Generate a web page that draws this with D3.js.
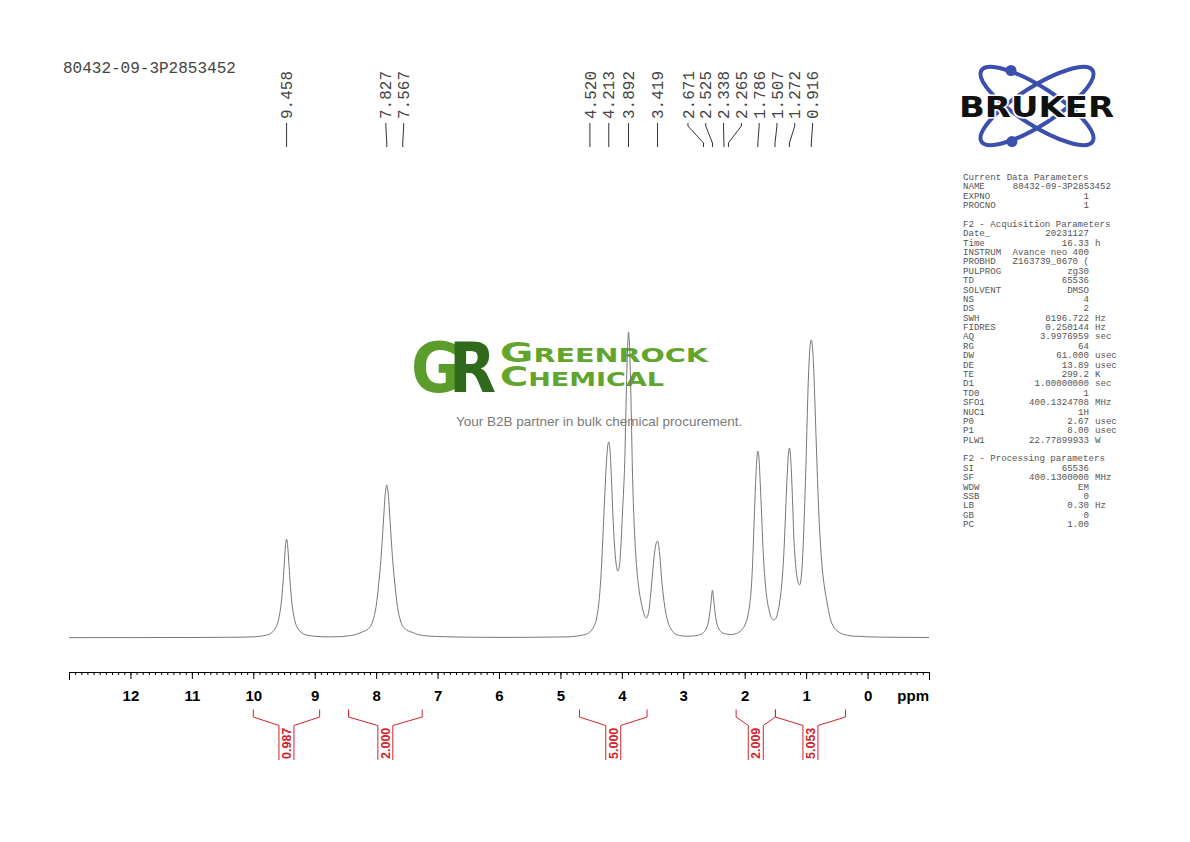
<!DOCTYPE html>
<html>
<head>
<meta charset="utf-8">
<script src="https://cdn.jsdelivr.net/npm/d3@7"></script>
<style>
  body { margin: 0; background: #fff; }
  svg { display: block; }
</style>
</head>
<body>
<div id="chart"></div>
<script>
var sampleName = "80432-09-3P2853452";

// spectrum trace, ppm descending
var shiftPpm = [
  13.0, 12.5, 12.0, 11.5, 11.0, 10.5, 10.2, 10.0, 9.9, 9.808, 9.708, 9.638, 9.598, 9.558, 9.533, 9.513, 9.493, 9.476,
  9.458, 9.44, 9.423, 9.403, 9.383, 9.358, 9.318, 9.278, 9.208, 9.108, 8.9, 8.75, 8.6, 8.45, 8.35, 8.23, 8.13, 8.05,
  7.997, 7.957, 7.925, 7.902, 7.877, 7.852, 7.827, 7.802, 7.777, 7.752, 7.729, 7.697, 7.657, 7.607, 7.527, 7.427,
  7.3, 7.15, 7.0, 6.7, 6.3, 5.9, 5.5, 5.2, 4.9, 4.8, 4.7, 4.6, 4.52, 4.46, 4.41, 4.37, 4.34, 4.313, 4.28, 4.25, 4.23,
  4.213, 4.195, 4.17, 4.145, 4.12, 4.095, 4.066, 4.04, 4.015, 3.99, 3.97, 3.955, 3.935, 3.915, 3.9, 3.892, 3.88,
  3.86, 3.845, 3.829, 3.81, 3.785, 3.755, 3.72, 3.68, 3.645, 3.603, 3.575, 3.55, 3.525, 3.5, 3.47, 3.445, 3.419,
  3.395, 3.37, 3.345, 3.32, 3.29, 3.25, 3.2, 3.14, 3.06, 2.96, 2.85, 2.75, 2.68, 2.63, 2.595, 2.57, 2.55, 2.535,
  2.525, 2.515, 2.5, 2.48, 2.455, 2.42, 2.37, 2.3, 2.22, 2.16, 2.1, 2.05, 1.99, 1.95, 1.92, 1.895, 1.875, 1.862,
  1.846, 1.826, 1.806, 1.786, 1.766, 1.746, 1.726, 1.71, 1.69, 1.665, 1.635, 1.6, 1.565, 1.525, 1.49, 1.46, 1.43,
  1.4, 1.375, 1.355, 1.338, 1.32, 1.3, 1.285, 1.272, 1.258, 1.24, 1.22, 1.2, 1.18, 1.16, 1.14, 1.12, 1.107, 1.09,
  1.07, 1.05, 1.03, 1.015, 1.0, 0.985, 0.97, 0.955, 0.94, 0.928, 0.916, 0.904, 0.89, 0.87, 0.85, 0.83, 0.81, 0.79,
  0.765, 0.735, 0.7, 0.66, 0.61, 0.55, 0.48, 0.41, 0.33, 0.22, 0.1, 0.0, -0.3, -0.7, -1.0
];
var intensity = [
  0.3, 0.4, 0.4, 0.5, 0.5, 0.7, 0.8, 1.1, 1.6, 2.6, 5, 10, 16, 29, 42, 58, 77, 92,
  99, 92, 77, 58, 42, 29, 16, 10, 5, 2.6, 1.3, 1.1, 1.3, 2.2, 3.2, 6, 9, 18,
  33, 55, 76.5, 96.5, 121, 143.6, 153, 143.6, 121, 96.5, 76.5, 55, 33, 18, 9, 6,
  3.2, 2.0, 1.5, 1.0, 0.7, 0.6, 0.7, 0.9, 1.1, 1.4, 2.2, 3.5, 6, 11, 20, 38, 62, 95, 140, 177, 192,
  196, 190, 160, 122, 93, 75, 67, 72, 92, 125, 150, 172, 225, 275, 300, 306, 298,
  262, 220, 170, 130, 95, 68, 48, 34, 25, 20, 23, 32, 48, 65, 84, 94, 97,
  90, 73, 54, 40, 27, 16, 9, 4.5, 2.5, 1.8, 2.0, 3, 5, 9, 15, 24, 35, 44,
  48, 44, 35, 24, 15, 9, 5.5, 4, 3.5, 4, 5.5, 8, 14, 22, 33, 48, 70, 90,
  118, 150, 176, 187, 178, 153, 125, 100, 76, 55, 38, 27, 20, 18, 20, 26, 36,
  52, 72, 95, 120, 148, 173, 186, 190, 185, 166, 135, 100, 80, 66, 58, 54, 53, 56,
  68, 90, 122, 150, 180, 215, 248, 272, 289, 296, 298, 295, 285, 258, 222, 185, 150, 120,
  92, 68, 50, 36, 20, 11, 6.5, 4, 2.8, 1.8, 1.6, 1.2, 0.8, 0.6, 0.5
];

var peakPpm = [9.458, 7.827, 7.567, 4.520, 4.213, 3.892, 3.419, 2.671, 2.525, 2.338, 2.265, 1.786, 1.507, 1.272, 0.916];

var integralFrom = [10.00, 8.45, 4.69, 2.14, 1.50];
var integralTo = [8.92, 7.25, 3.59, 1.50, 0.36];
var integralValue = ["0.987", "2.000", "5.000", "2.009", "5.053"];

var majorTicks = [12, 11, 10, 9, 8, 7, 6, 5, 4, 3, 2, 1, 0];

var paramRows = [
  ["Current Data Parameters"],
  ["NAME", "80432-09-3P2853452", "", 1111],
  ["EXPNO", "1"],
  ["PROCNO", "1"],
  [],
  ["F2 - Acquisition Parameters"],
  ["Date_", "20231127"],
  ["Time", "16.33", "h"],
  ["INSTRUM", "Avance neo 400"],
  ["PROBHD", "Z163739_0670 ("],
  ["PULPROG", "zg30"],
  ["TD", "65536"],
  ["SOLVENT", "DMSO"],
  ["NS", "4"],
  ["DS", "2"],
  ["SWH", "8196.722", "Hz"],
  ["FIDRES", "0.250144", "Hz"],
  ["AQ", "3.9976959", "sec"],
  ["RG", "64"],
  ["DW", "61.000", "usec"],
  ["DE", "13.89", "usec"],
  ["TE", "299.2", "K"],
  ["D1", "1.00000000", "sec"],
  ["TD0", "1"],
  ["SFO1", "400.1324708", "MHz"],
  ["NUC1", "1H"],
  ["P0", "2.67", "usec"],
  ["P1", "8.00", "usec"],
  ["PLW1", "22.77899933", "W"],
  [],
  ["F2 - Processing parameters"],
  ["SI", "65536"],
  ["SF", "400.1300000", "MHz"],
  ["WDW", "EM"],
  ["SSB", "0"],
  ["LB", "0.30", "Hz"],
  ["GB", "0"],
  ["PC", "1.00"]
];

var width = 1190;
var height = 842;
var mono = "'Liberation Mono', 'DejaVu Sans Mono', monospace";
var sans = "'Liberation Sans', Arial, sans-serif";
var red = "#d3222a";

var svg = d3.select("#chart")
  .append("svg")
  .attr("width", width)
  .attr("height", height);

var x = d3.scaleLinear().domain([13, -1]).range([69, 929]);
var y = d3.scaleLinear().domain([0, 306]).range([638, 332]);

// title
svg.append("text")
  .attr("x", 63)
  .attr("y", 73)
  .attr("font-family", mono)
  .attr("font-size", 16)
  .attr("fill", "#444")
  .text(sampleName);

// watermark
var wm = svg.append("g");
var gr = wm.append("text")
  .attr("x", 411).attr("y", 392)
  .attr("font-family", "'DejaVu Sans'").attr("font-weight", "bold")
  .attr("font-size", 70)
  .attr("textLength", 85).attr("lengthAdjust", "spacingAndGlyphs");
gr.append("tspan").attr("fill", "#5c9c2b").text("G");
gr.append("tspan").attr("fill", "#2f6a1c").attr("dx", -14).text("R");

// wordmark: big first letter via small caps, stretched wide
[["Greenrock", 362, 208], ["Chemical", 386, 164]].forEach(function(w) {
  wm.append("text")
    .attr("x", 500).attr("y", w[1])
    .attr("font-family", "'DejaVu Sans'").attr("font-weight", "bold")
    .attr("font-size", 27)
    .style("font-variant", "small-caps")
    .attr("fill", "#61a52d")
    .attr("textLength", w[2]).attr("lengthAdjust", "spacingAndGlyphs")
    .text(w[0]);
});

wm.append("text")
  .attr("x", 456).attr("y", 426)
  .attr("font-family", sans).attr("font-size", 13.5)
  .attr("fill", "#7a7a7a")
  .text("Your B2B partner in bulk chemical procurement.");

// spectrum
var trace = shiftPpm.map(function(d, i) { return [d, intensity[i]]; });
var line = d3.line()
  .x(function(d) { return x(d[0]); })
  .y(function(d) { return y(d[1]); })
  .curve(d3.curveMonotoneX);

svg.append("path")
  .datum(trace)
  .attr("d", line)
  .attr("fill", "none")
  .attr("stroke", "#777")
  .attr("stroke-width", 1);

// axis
var axisY = 672;
var minorTicks = d3.range(-10, 131).map(function(i) { return i / 10; });

svg.append("g")
  .attr("transform", "translate(0," + axisY + ")")
  .call(d3.axisBottom(x).tickValues(minorTicks).tickSize(3).tickFormat(""))
  .call(function(g) { g.select(".domain").remove(); });

svg.append("g")
  .attr("transform", "translate(0," + axisY + ")")
  .call(d3.axisBottom(x)
    .tickValues(majorTicks)
    .tickSizeInner(7)
    .tickSizeOuter(8)
    .tickPadding(11)
    .tickFormat(d3.format("d")))
  .attr("font-family", sans)
  .attr("font-size", 15)
  .attr("font-weight", "bold");

svg.append("text")
  .attr("x", 929).attr("y", 701)
  .attr("text-anchor", "end")
  .attr("font-family", sans).attr("font-size", 15).attr("font-weight", "bold")
  .text("ppm");

// peak labels, spread so they don't overlap
function spreadLabels(xs, gap) {
  var groups = xs.map(function(v) { return { sum: v, n: 1 }; });
  var merged = true;
  while (merged) {
    merged = false;
    for (var i = 0; i < groups.length - 1; i++) {
      var a = groups[i], b = groups[i + 1];
      var aEnd = a.sum / a.n + (a.n - 1) * gap / 2;
      var bStart = b.sum / b.n - (b.n - 1) * gap / 2;
      if (bStart - aEnd < gap) {
        groups.splice(i, 2, { sum: a.sum + b.sum, n: a.n + b.n });
        merged = true;
        break;
      }
    }
  }
  var out = [];
  groups.forEach(function(g) {
    var c = g.sum / g.n;
    for (var k = 0; k < g.n; k++) out.push(c + (k - (g.n - 1) / 2) * gap);
  });
  return out;
}

var peakX = peakPpm.map(function(d) { return x(d); });
var labelX = spreadLabels(peakX, 17.8);

var labels = svg.append("g");
peakPpm.forEach(function(p, i) {
  labels.append("path")
    .attr("d", "M" + labelX[i] + ",123V126L" + peakX[i] + ",143V147")
    .attr("fill", "none")
    .attr("stroke", "#333")
    .attr("stroke-width", 1);
  labels.append("text")
    .attr("transform", "translate(" + labelX[i] + ",119) rotate(-90)")
    .attr("dy", "0.35em")
    .attr("font-family", mono)
    .attr("font-size", 16)
    .attr("fill", "#444")
    .text(p.toFixed(3));
});

// integrals
var integ = svg.append("g");
integralFrom.forEach(function(f, i) {
  var x1 = x(f), x2 = x(integralTo[i]), cx = (x1 + x2) / 2;
  integ.append("path")
    .attr("d", "M" + x1 + ",709.5V717L" + (cx - 7.5) + ",725.5V760" +
               "M" + (cx + 7.5) + ",760V725.5L" + x2 + ",717V709.5")
    .attr("fill", "none")
    .attr("stroke", red)
    .attr("stroke-width", 1);
  integ.append("text")
    .attr("transform", "translate(" + cx + ",759) rotate(-90)")
    .attr("dy", "0.36em")
    .attr("font-family", sans)
    .attr("font-size", 12.5)
    .attr("font-weight", "bold")
    .attr("fill", red)
    .text(integralValue[i]);
});

// Bruker logo
var blue = "#3b4fae";
var logo = svg.append("g").attr("transform", "translate(1037,106)");
[32.7, -32.7].forEach(function(a) {
  logo.append("ellipse")
    .attr("rx", 66).attr("ry", 19)
    .attr("transform", "rotate(" + a + ")")
    .attr("fill", "none")
    .attr("stroke", blue)
    .attr("stroke-width", 4);
});
logo.append("circle").attr("cx", -26).attr("cy", -35.5).attr("r", 5.5).attr("fill", blue);
logo.append("circle").attr("cx", -25).attr("cy", 35.5).attr("r", 5.5).attr("fill", blue);
logo.append("text")
  .attr("x", -78).attr("y", 11)
  .attr("font-family", "'DejaVu Sans'").attr("font-weight", "bold")
  .attr("font-size", 29)
  .attr("textLength", 155).attr("lengthAdjust", "spacingAndGlyphs")
  .attr("fill", "#111")
  .attr("stroke", "#fff").attr("stroke-width", 3)
  .attr("paint-order", "stroke")
  .text("BRUKER");

// acquisition / processing parameters
var params = svg.append("g")
  .attr("font-family", mono)
  .attr("font-size", 9.1)
  .attr("fill", "#555");
paramRows.forEach(function(r, i) {
  if (!r.length) return;
  var yy = 180 + i * 9.38;
  params.append("text").attr("x", 963).attr("y", yy).text(r[0]);
  if (r[1] !== undefined) {
    params.append("text")
      .attr("x", r[3] || 1089).attr("y", yy)
      .attr("text-anchor", "end")
      .text(r[1]);
  }
  if (r[2]) {
    params.append("text").attr("x", 1095).attr("y", yy).text(r[2]);
  }
});
</script>
</body>
</html>
